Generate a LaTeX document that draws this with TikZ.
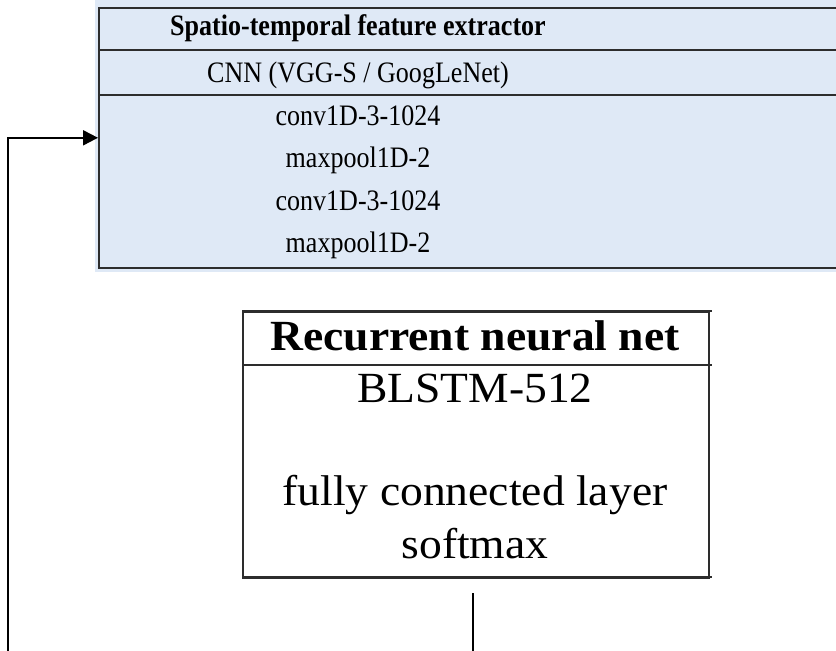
\documentclass[tikz,border=0pt]{standalone}
\usepackage{fontspec}
\setmainfont{Liberation Serif}
\usetikzlibrary{arrows.meta}
\definecolor{feblue}{RGB}{223,233,246}
\definecolor{edge}{RGB}{45,45,45}
\tikzset{
  x=1pt,y=-1pt,
  fetext/.style={anchor=base,inner sep=0pt,font=\fontsize{28}{30}\selectfont},
  rnntext/.style={anchor=base,inner sep=0pt,font=\fontsize{43}{46}\selectfont},
  fbox/.style={draw=edge,line width=1.6pt,fill=feblue,rectangle,anchor=north west,inner sep=0pt},
  rbox/.style={draw=edge,line width=1.6pt,fill=white,rectangle,anchor=north west,inner sep=0pt},
  rule/.style={draw=edge,line width=1.6pt},
  conn/.style={draw=black,line width=2pt},
  connarrow/.style={conn,-{Triangle[length=15pt,width=15pt]}}
}
\newcommand{\fesq}[1]{\scalebox{0.93}[1.06]{#1}}
\newcommand{\rnsq}[1]{\scalebox{1.06}[1]{#1}}
\begin{document}
\begin{tikzpicture}
\useasboundingbox (0,0) rectangle (836,651);
\clip (0,0) rectangle (836,651);
% feature extractor
\fill[feblue] (95,0) rectangle (836,272);
\node[fbox,minimum width=750pt,minimum height=260pt] (fe) at (98,7) {};
\draw[rule] (98,50) -- (836,50);
\draw[rule] (98,95) -- (836,95);
\node[fetext] (t1) at (358,35) {\fesq{\bfseries Spatio-temporal feature extractor}};
\node[fetext] (t2) at (358,82) {\fesq{CNN (VGG-S / GoogLeNet)}};
\node[fetext] (t3) at (358,125) {\fesq{conv1D-3-1024}};
\node[fetext] (t4) at (358,167) {\fesq{maxpool1D-2}};
\node[fetext] (t5) at (358,210) {\fesq{conv1D-3-1024}};
\node[fetext] (t6) at (358,252) {\fesq{maxpool1D-2}};
% recurrent net
\node[rbox,minimum width=466pt,minimum height=266pt] (rnn) at (242,311) {};
\draw[rule] (242,311) -- (712,311);
\draw[rule] (242,365) -- (712,365);
\draw[rule] (242,577) -- (712,577);
\node[rnntext] (r1) at (475,350) {\rnsq{\bfseries Recurrent neural net}};
\node[rnntext] (r2) at (475,402) {\rnsq{BLSTM-512}};
\node[rnntext] (r3) at (475,505) {\rnsq{fully connected layer}};
\node[rnntext] (r4) at (475,558) {\rnsq{softmax}};
% connectors
\coordinate (in1) at (8,660);
\draw[connarrow] (in1) |- (fe.west);
\coordinate (out1) at (473,593);
\coordinate (out2) at (473,660);
\draw[conn] (out1) -- (out2);
\end{tikzpicture}
\end{document}
